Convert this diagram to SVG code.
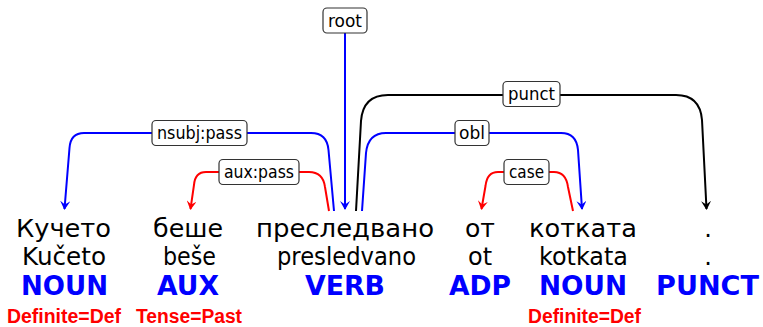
<svg xmlns="http://www.w3.org/2000/svg" width="763" height="327" viewBox="0 0 763 327">
<style>
.w{font-family:"DejaVu Sans",sans-serif;font-size:24px;fill:#000;text-anchor:middle}
.p{font-family:"DejaVu Sans",sans-serif;font-size:26px;font-weight:bold;fill:#0000ff;text-anchor:middle}
.f{font-family:"Liberation Sans Narrow","Liberation Sans",sans-serif;font-size:20px;font-weight:bold;fill:#ff0000;text-anchor:middle}
.lb rect{fill:#fff;stroke:#333;stroke-width:1.2}
.lb text{font-family:"DejaVu Sans",sans-serif;font-size:18px;fill:#000;text-anchor:middle}
.e{fill:none;stroke-width:2}
.blue{stroke:#0000ff}
.red{stroke:#ff0000}
.black{stroke:#000}
</style>
<defs>
<marker id="ab" markerWidth="9" markerHeight="10" refX="8" refY="5" orient="auto" markerUnits="userSpaceOnUse" viewBox="0 0 9 10">
<path d="M0,0 L9,5 L0,10 L3.5,5 Z" fill="#0000ff"/>
</marker>
<marker id="ar" markerWidth="9" markerHeight="10" refX="8" refY="5" orient="auto" markerUnits="userSpaceOnUse" viewBox="0 0 9 10">
<path d="M0,0 L9,5 L0,10 L3.5,5 Z" fill="#ff0000"/>
</marker>
<marker id="ak" markerWidth="9" markerHeight="10" refX="8" refY="5" orient="auto" markerUnits="userSpaceOnUse" viewBox="0 0 9 10">
<path d="M0,0 L9,5 L0,10 L3.5,5 Z" fill="#000"/>
</marker>
</defs>

<g id="connectors">
<path class="e blue" d="M345,33 L345,209" marker-end="url(#ab)"/>
<path class="e blue" d="M334,211 L328.5,150 Q327,133 311,133 L84,133 Q70.5,133 69.5,148 L64.5,209" marker-end="url(#ab)"/>
<path class="e red" d="M329,211 L325,187 Q323,172 309,172 L206,172 Q195,172 194,185 L190.5,209" marker-end="url(#ar)"/>
<path class="e black" d="M356,211 L361,121 Q363,95 388,95 L676,95 Q700,95 702,120 L706.5,209" marker-end="url(#ak)"/>
<path class="e blue" d="M362,211 L366,153 Q368,133 386,133 L561,133 Q576.5,133 578,150 L582,209" marker-end="url(#ab)"/>
<path class="e red" d="M573,211 L568,187 Q566,172 554,172 L498,172 Q487,172 485.5,186 L481.5,209" marker-end="url(#ar)"/>
</g>

<g id="labels">
<g class="lb" id="lbl-root"><rect x="323" y="8" width="44" height="25" rx="4"/><text x="345" y="27" textLength="34" lengthAdjust="spacingAndGlyphs">root</text></g>
<g class="lb" id="lbl-nsubj"><rect x="152" y="120.5" width="95" height="25" rx="4"/><text x="199.5" y="139" textLength="85" lengthAdjust="spacingAndGlyphs">nsubj:pass</text></g>
<g class="lb" id="lbl-aux"><rect x="219" y="159.5" width="80" height="25" rx="4"/><text x="259" y="178" textLength="70" lengthAdjust="spacingAndGlyphs">aux:pass</text></g>
<g class="lb" id="lbl-punct"><rect x="503" y="81.5" width="57" height="25" rx="4"/><text x="531.5" y="100" textLength="47" lengthAdjust="spacingAndGlyphs">punct</text></g>
<g class="lb" id="lbl-obl"><rect x="455" y="120.5" width="34" height="25" rx="4"/><text x="472" y="139" textLength="26" lengthAdjust="spacingAndGlyphs">obl</text></g>
<g class="lb" id="lbl-case"><rect x="504" y="159.5" width="45" height="25" rx="4"/><text x="526.5" y="178" textLength="35" lengthAdjust="spacingAndGlyphs">case</text></g>
</g>

<g id="w1">
<text class="w" x="63.5" y="236.5" textLength="95" lengthAdjust="spacingAndGlyphs">Кучето</text>
<text class="w" x="64" y="265" textLength="84" lengthAdjust="spacingAndGlyphs">Kučeto</text>
<text class="p" x="64.5" y="295" textLength="87" lengthAdjust="spacingAndGlyphs">NOUN</text>
<text class="f" x="64" y="322.5" textLength="114" lengthAdjust="spacingAndGlyphs">Definite=Def</text>
</g>
<g id="w2">
<text class="w" x="188" y="236.5" textLength="70" lengthAdjust="spacingAndGlyphs">беше</text>
<text class="w" x="189.5" y="265" textLength="53" lengthAdjust="spacingAndGlyphs">beše</text>
<text class="p" x="188" y="295" textLength="62" lengthAdjust="spacingAndGlyphs">AUX</text>
<text class="f" x="189" y="322.5" textLength="106" lengthAdjust="spacingAndGlyphs">Tense=Past</text>
</g>
<g id="w3">
<text class="w" x="345" y="236.5" textLength="178" lengthAdjust="spacingAndGlyphs">преследвано</text>
<text class="w" x="346.5" y="265" textLength="139" lengthAdjust="spacingAndGlyphs">presledvano</text>
<text class="p" x="345" y="295" textLength="80" lengthAdjust="spacingAndGlyphs">VERB</text>
</g>
<g id="w4">
<text class="w" x="480" y="236.5" textLength="30" lengthAdjust="spacingAndGlyphs">от</text>
<text class="w" x="480" y="265" textLength="24" lengthAdjust="spacingAndGlyphs">ot</text>
<text class="p" x="480" y="295" textLength="62" lengthAdjust="spacingAndGlyphs">ADP</text>
</g>
<g id="w5">
<text class="w" x="583" y="236.5" textLength="108" lengthAdjust="spacingAndGlyphs">котката</text>
<text class="w" x="583.5" y="265" textLength="89" lengthAdjust="spacingAndGlyphs">kotkata</text>
<text class="p" x="583" y="295" textLength="88" lengthAdjust="spacingAndGlyphs">NOUN</text>
<text class="f" x="584.5" y="322.5" textLength="113" lengthAdjust="spacingAndGlyphs">Definite=Def</text>
</g>
<g id="w6">
<text class="w" x="708" y="236.5">.</text>
<text class="w" x="708" y="265">.</text>
<text class="p" x="707.5" y="295" textLength="103" lengthAdjust="spacingAndGlyphs">PUNCT</text>
</g>
</svg>
